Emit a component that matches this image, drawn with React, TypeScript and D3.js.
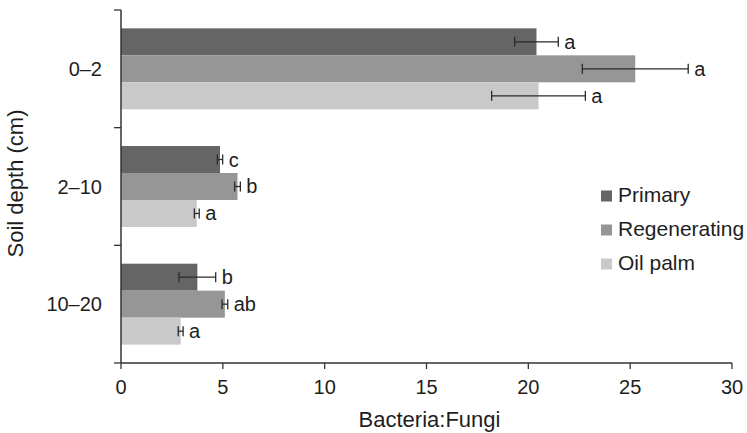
import { scaleBand, scaleLinear, scaleOrdinal } from "d3";

const depths = ["0\u20132", "2\u201310", "10\u201320"];
const series = ["Primary", "Regenerating", "Oil palm"];
const colors = ["#656565", "#969696", "#c9c9c9"];

// mean values per depth, one array per series
const primary = [20.4, 4.86, 3.75];
const regenerating = [25.25, 5.72, 5.1];
const oilPalm = [20.5, 3.72, 2.93];

// standard errors
const primaryErr = [1.07, 0.13, 0.9];
const regeneratingErr = [2.6, 0.14, 0.14];
const oilPalmErr = [2.3, 0.12, 0.12];

// significance letters
const primaryLetters = ["a", "c", "b"];
const regeneratingLetters = ["a", "b", "ab"];
const oilPalmLetters = ["a", "a", "a"];

const xTicks = [0, 5, 10, 15, 20, 25, 30];

const values = [primary, regenerating, oilPalm];
const errors = [primaryErr, regeneratingErr, oilPalmErr];
const letters = [primaryLetters, regeneratingLetters, oilPalmLetters];

const W = 747;
const H = 433;
const margin = { top: 10, right: 15, bottom: 71, left: 121 };
const font = "'Liberation Sans', Arial, Helvetica, sans-serif";
const axisColor = "#333";
const textColor = "#1e1e1e";

export default function App() {
  const x = scaleLinear().domain([0, 30]).range([margin.left, W - margin.right]);
  const y = scaleBand<string>().domain(depths).range([margin.top, H - margin.bottom + 1]).padding(0);
  const inner = scaleBand<string>().domain(series).range([0, y.bandwidth()]).paddingInner(0).paddingOuter(0.68);
  const color = scaleOrdinal<string, string>().domain(series).range(colors);

  const yBottom = H - margin.bottom + 1;
  const bounds = [margin.top, ...depths.map((d) => (y(d) as number) + y.bandwidth())];

  return (
    <svg width={W} height={H} style={{ position: "absolute", left: 0, top: 0 }} fontFamily={font}>
      <rect width={W} height={H} fill="#fff" />

      {/* bars */}
      {depths.map((d, di) => (
        <g key={d} transform={`translate(0, ${y(d)})`}>
          {series.map((s, si) => {
            const v = values[si][di];
            const e = errors[si][di];
            const by = inner(s) as number;
            const bh = inner.bandwidth();
            const cy = by + bh / 2;
            return (
              <g key={s}>
                <rect x={x(0)} y={by} width={x(v) - x(0)} height={bh} fill={color(s)} />
                <line x1={x(v - e)} x2={x(v + e)} y1={cy} y2={cy} stroke="#2a2a2a" strokeWidth={1.3} />
                <line x1={x(v - e)} x2={x(v - e)} y1={cy - 5} y2={cy + 5} stroke="#2a2a2a" strokeWidth={1.3} />
                <line x1={x(v + e)} x2={x(v + e)} y1={cy - 5} y2={cy + 5} stroke="#2a2a2a" strokeWidth={1.3} />
                <text x={x(v + e) + 6} y={cy + 7} fontSize={20} fill={textColor}>
                  {letters[si][di]}
                </text>
              </g>
            );
          })}
        </g>
      ))}

      {/* y axis */}
      <line x1={x(0)} x2={x(0)} y1={margin.top} y2={yBottom} stroke={axisColor} strokeWidth={1.5} />
      {bounds.map((b, i) => (
        <line key={i} x1={x(0) - 7} x2={x(0)} y1={b} y2={b} stroke={axisColor} strokeWidth={1.3} />
      ))}
      {depths.map((d) => (
        <text
          key={d}
          x={x(0) - 19}
          y={(y(d) as number) + y.bandwidth() / 2 + 7}
          textAnchor="end"
          fontSize={20}
          fill={textColor}
        >
          {d}
        </text>
      ))}
      <text
        transform={`translate(23, ${(margin.top + yBottom) / 2 - 3}) rotate(-90)`}
        textAnchor="middle"
        fontSize={22}
        fill={textColor}
      >
        Soil depth (cm)
      </text>

      {/* x axis */}
      <line x1={x(0)} x2={x(30)} y1={yBottom} y2={yBottom} stroke={axisColor} strokeWidth={1.5} />
      {xTicks.map((t) => (
        <g key={t} transform={`translate(${x(t)}, ${yBottom})`}>
          <line y1={0} y2={6} stroke={axisColor} strokeWidth={1.3} />
          <text y={31} textAnchor="middle" fontSize={20} fill={textColor}>
            {t}
          </text>
        </g>
      ))}
      <text x={(x(0) + x(30)) / 2 + 3} y={427} textAnchor="middle" fontSize={22} fill={textColor}>
        Bacteria:Fungi
      </text>

      {/* legend */}
      {series.map((s, i) => (
        <g key={s} transform={`translate(601, ${196 + i * 34})`}>
          <rect x={0} y={-5.5} width={11} height={11} fill={color(s)} />
          <text x={17} y={6} fontSize={21} fill={textColor}>
            {s}
          </text>
        </g>
      ))}
    </svg>
  );
}
